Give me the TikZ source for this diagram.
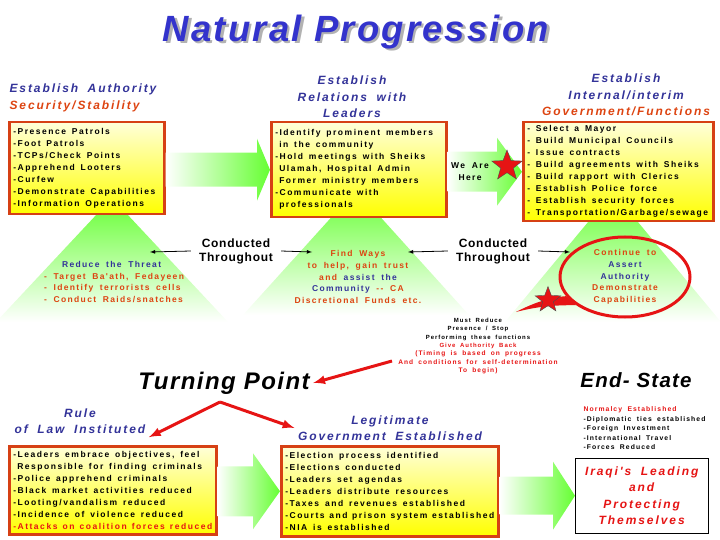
\documentclass[tikz,border=0pt]{standalone}
\usepackage{fontspec}
\setmainfont{Liberation Sans}
\newfontfamily\spacedfont[LetterSpace=16, WordSpace=1.8]{Liberation Sans}
\newfontfamily\boxfont[LetterSpace=18, WordSpace=1.5]{Liberation Sans}
\newfontfamily\widefont[LetterSpace=6]{Liberation Sans}
\usetikzlibrary{shapes,
                arrows,
                calc,
                positioning}

\definecolor{titleblue}{RGB}{51,51,204}
\definecolor{headblue}{RGB}{51,51,153}
\definecolor{headred}{RGB}{221,68,17}
\definecolor{boxred}{RGB}{214,64,20}
\definecolor{alertred}{RGB}{230,20,20}
\definecolor{flowgreen}{RGB}{102,255,51}

% use the font's own word spaces inside the boxes
\newcommand{\boxspaces}{\spaceskip 0pt\relax \xspaceskip 0pt\relax}

\tikzset{taskbox/.style =
   {rectangle,
    draw=boxred,
    line width=2.5pt,
    top color=yellow!15,
    bottom color=yellow,
    anchor=north west,
    align=left,
    inner xsep=4pt,
    font=\boxfont\bfseries\fontsize{8.5}{12}\selectfont}}
\tikzset{heading/.style =
   {align=center,
    text=headblue,
    font=\spacedfont\bfseries\itshape\fontsize{12}{16.5}\selectfont}}
\tikzset{smalltext/.style =
   {align=center,
    font=\spacedfont\bfseries\fontsize{8.5}{11.8}\selectfont}}
\tikzset{throughout/.style =
   {align=center,
    inner xsep=8pt,
    font=\widefont\bfseries\fontsize{12}{14}\selectfont}}
\tikzset{bigitalic/.style = {font=\widefont\bfseries\itshape\fontsize{24}{26}\selectfont}}
\tikzset{beam/.style = {top color=flowgreen, bottom color=white}}
\tikzset{redstar/.style =
   {star, star points=5, star point ratio=2.4,
    fill=alertred, draw=black!70, inner sep=0pt}}
\tikzset{arrow/.style = {draw, thick, -latex}}
\tikzset{redarrow/.style = {draw=alertred, line width=3pt, -latex}}

% green block arrow from box #1 to box #2
% (#3 half body, #4 half head, #5 head length)
\newcommand{\flowarrow}[5]{%
  \shade[left color=white, right color=flowgreen]
    ($(#1.east |- #2.west)+(0,-#3)$) -- ($(#2.west)+(-#5,-#3)$)
    -- ($(#2.west)+(-#5,-#4)$) -- (#2.west)
    -- ($(#2.west)+(-#5,#4)$) -- ($(#2.west)+(-#5,#3)$)
    -- ($(#1.east |- #2.west)+(0,#3)$) -- cycle;}

\begin{document}
\begin{tikzpicture}[x=1pt, y=-1pt]

    \useasboundingbox (0,0) rectangle (720,540);

    % light beams under the top boxes
    \shade [beam] (112,198) -- (228,322) -- (-4,322) -- cycle;
    \shade [beam] (356,190) -- (469,315) -- (243,315) -- cycle;
    \shade [beam] (613,192) -- (721,322) -- (505,322) -- cycle;

    % title
    \node [bigitalic, font=\widefont\bfseries\itshape\fontsize{36.5}{40}\selectfont,
           text=black!30] (titleshadow) at (358.5,34.5) {Natural Progression};
    \node [bigitalic, font=\widefont\bfseries\itshape\fontsize{36.5}{40}\selectfont,
           text=titleblue] (title) at (356,32) {Natural Progression};

    % headings of the top row
    \node [heading, align=left, anchor=west] (authhead) at (6,98)
     {Establish Authority\\\textcolor{headred}{Security/Stability}};
    \node [heading] (relhead) at (352,97) {Establish\\Relations with\\Leaders};
    \node [heading] (govhead) at (626,95)
     {Establish\\Internal/interim\\\textcolor{headred}{Government/Functions}};

    % top row of boxes
    \node [taskbox, minimum width=155, minimum height=92, text width=147] (auth) at (8,121)
     {\boxspaces
      -Presence Patrols\\
      -Foot Patrols\\
      -TCPs/Check Points\\
      -Apprehend Looters\\
      -Curfew\\
      -Demonstrate Capabilities\\
      -Information Operations};
    \node [taskbox, minimum width=175, minimum height=95, text width=167] (rel) at (270,121)
     {\boxspaces
      -Identify prominent members\\
      \hspace*{4pt}in the community\\
      -Hold meetings with Sheiks\\
      \hspace*{4pt}Ulamah, Hospital Admin\\
      \hspace*{4pt}Former ministry members\\
      -Communicate with\\
      \hspace*{4pt}professionals};
    \node [taskbox, minimum width=190, minimum height=99, text width=182] (gov) at (522,121)
     {\boxspaces
      - Select a Mayor\\
      - Build Municipal Councils\\
      - Issue contracts\\
      - Build agreements with Sheiks\\
      - Build rapport with Clerics\\
      - Establish Police force\\
      - Establish security forces\\
      - Transportation/Garbage/sewage};

    \flowarrow{auth}{rel}{17}{31}{13}
    \flowarrow{rel}{gov}{20}{34}{25}

    \node [smalltext] (here) at (470,172) {We Are\\Here};
    \node [redstar, minimum size=32] (herestar) at (507,166) {};

    % what goes on throughout
    \node [smalltext, align=left, text=headred] (threat) at (114,282)
     {\hspace*{18pt}\textcolor{headblue}{Reduce the Threat}\\
      - Target Ba'ath, Fedayeen\\
      - Identify terrorists cells\\
      - Conduct Raids/snatches};
    \node [smalltext, text=headred] (findways) at (358,277)
     {Find Ways\\
      to help, gain trust\\
      and \textcolor{headblue}{assist the}\\
      \textcolor{headblue}{Community} -- CA\\
      Discretional Funds etc.};

    \node [throughout] (ct1) at (236,251) {Conducted\\Throughout};
    \node [throughout] (ct2) at (493,251) {Conducted\\Throughout};
    \coordinate (beam1) at (150,252);
    \coordinate (beam2l) at (312,252);
    \coordinate (beam2r) at (408,252);
    \coordinate (beam3) at (570,252);
    \draw [arrow] (ct1.west) -- (beam1);
    \draw [arrow] (ct1.east) -- (beam2l);
    \draw [arrow] (ct2.west) -- (beam2r);
    \draw [arrow] (ct2.east) -- (beam3);

    % callout
    \node [ellipse, draw=alertred, line width=3pt,
           minimum width=130, minimum height=80] (assert) at (625,277) {};
    \coordinate (tail) at (516,312);
    \fill [alertred] (tail) .. controls (535,302) and (552,297) .. (assert.198)
     -- (assert.210) .. controls (552,305) and (535,307) .. (tail) -- cycle;
    \node [smalltext, text=headred] (asserttext) at (assert)
     {Continue to\\
      \textcolor{headblue}{Assert}\\
      \textcolor{headblue}{Authority}\\
      Demonstrate\\
      Capabilities};
    \node [redstar, minimum size=27] (turnstar) at (548,300) {};

    \node [smalltext, font=\spacedfont\bfseries\fontsize{6}{8.3}\selectfont] (giveback) at (478,346)
     {Must Reduce\\
      Presence / Stop\\
      Performing these functions\\
      \textcolor{alertred}{Give Authority Back}\\
      \textcolor{alertred}{\fontsize{6.6}{9}\selectfont(Timing is based on progress}\\
      \textcolor{alertred}{\fontsize{6.6}{9}\selectfont And conditions for self-determination}\\
      \textcolor{alertred}{\fontsize{6.6}{9}\selectfont To begin)}};

    % turning point
    \node [bigitalic] (turning) at (224,383) {Turning Point};
    \coordinate (givestart) at (392,361);
    \draw [redarrow] (givestart) -- (turning.east);

    \node [heading] (lawhead) at (80,421) {Rule\\of Law Instituted};
    \node [heading] (legithead) at (390,428) {Legitimate\\Government Established};
    \coordinate (fork) at (220,402);
    \draw [redarrow] (fork) -- (lawhead.south east);
    \draw [redarrow] (fork) -- (legithead.west);

    % bottom row of boxes
    \node [taskbox, minimum width=207, minimum height=88, text width=199] (law) at (8,445)
     {\boxspaces
      -Leaders embrace objectives, feel\\
      \hspace*{4pt}Responsible for finding criminals\\
      -Police apprehend criminals\\
      -Black market activities reduced\\
      -Looting/vandalism reduced\\
      -Incidence of violence reduced\\
      \textcolor{alertred}{-Attacks on coalition forces reduced}};
    \node [taskbox, minimum width=217, minimum height=90, text width=209] (legit) at (280,445)
     {\boxspaces
      -Election process identified\\
      -Elections conducted\\
      -Leaders set agendas\\
      -Leaders distribute resources\\
      -Taxes and revenues established\\
      -Courts and prison system established\\
      -NIA is established};

    % end state
    \node [bigitalic, font=\widefont\bfseries\itshape\fontsize{20.5}{22}\selectfont] (endstate) at (636,380) {End- State};
    \node [smalltext, align=left, anchor=north west,
           font=\spacedfont\bfseries\fontsize{6.8}{9.6}\selectfont] (normal) at (580,403)
     {\textcolor{alertred}{Normalcy Established}\\
      -Diplomatic ties established\\
      -Foreign Investment\\
      -International Travel\\
      -Forces Reduced};
    \node [rectangle, draw, fill=white, anchor=north west,
           minimum width=133, minimum height=75, align=center, text=alertred,
           font=\spacedfont\bfseries\itshape\fontsize{12}{16.3}\selectfont] (final) at (575,458)
     {Iraqi's Leading\\and\\Protecting\\Themselves};

    \flowarrow{law}{legit}{25}{38}{27}
    \flowarrow{legit}{final}{19}{34}{22}

\end{tikzpicture}
\end{document}
